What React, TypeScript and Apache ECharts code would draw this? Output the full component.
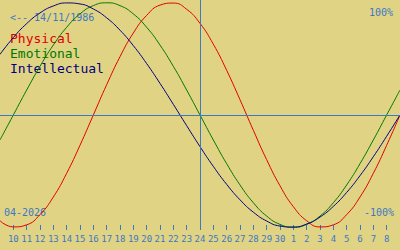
import React, { useEffect, useRef } from "react";
import * as echarts from "echarts";

// Days shown: 9 April 2026 .. 9 May 2026 (vertical marker on 24 April)
const dates = [
  "2026-04-09", "2026-04-10", "2026-04-11", "2026-04-12", "2026-04-13", "2026-04-14",
  "2026-04-15", "2026-04-16", "2026-04-17", "2026-04-18", "2026-04-19", "2026-04-20",
  "2026-04-21", "2026-04-22", "2026-04-23", "2026-04-24", "2026-04-25", "2026-04-26",
  "2026-04-27", "2026-04-28", "2026-04-29", "2026-04-30", "2026-05-01", "2026-05-02",
  "2026-05-03", "2026-05-04", "2026-05-05", "2026-05-06", "2026-05-07", "2026-05-08",
  "2026-05-09",
];
const dayLabels = [
  "9", "10", "11", "12", "13", "14", "15", "16", "17", "18", "19", "20", "21", "22",
  "23", "24", "25", "26", "27", "28", "29", "30", "1", "2", "3", "4", "5", "6", "7", "8", "9",
];
const today = "2026-04-24";

const physical = [
  -0.9423, -0.9977, -0.9791, -0.8879, -0.7308, -0.5196, -0.2698, 0, 0.2698, 0.5196,
  0.7308, 0.8879, 0.9791, 0.9977, 0.9423, 0.817, 0.6311, 0.3984, 0.1362, -0.1362,
  -0.3984, -0.6311, -0.817, -0.9423, -0.9977, -0.9791, -0.8879, -0.7308, -0.5196,
  -0.2698, 0,
];
const emotional = [
  -0.2225, 0, 0.2225, 0.4339, 0.6235, 0.7818, 0.901, 0.9749, 1, 0.9749, 0.901, 0.7818,
  0.6235, 0.4339, 0.2225, 0, -0.2225, -0.4339, -0.6235, -0.7818, -0.901, -0.9749, -1,
  -0.9749, -0.901, -0.7818, -0.6235, -0.4339, -0.2225, 0, 0.2225,
];
const intellectual = [
  0.5406, 0.6901, 0.8146, 0.9096, 0.9718, 0.9989, 0.9898, 0.945, 0.866, 0.7557, 0.6182,
  0.4582, 0.2817, 0.0951, -0.0951, -0.2817, -0.4582, -0.6182, -0.7557, -0.866, -0.945,
  -0.9898, -0.9989, -0.9718, -0.9096, -0.8146, -0.6901, -0.5406, -0.3717, -0.1893, 0,
];

const seriesNames = ["Physical", "Emotional", "Intellectual"];
const seriesColors = ["#e00000", "#007800", "#000080"];
const birthLabel = "<-- 14/11/1986";
const monthLabel = "04-2026";
const topLabel = "100%";
const bottomLabel = "-100%";

const BG = "#e1d384";
const BLUE = "#3c78c4";
const FONT = "DejaVu Sans Mono";

export default function App() {
  const ref = useRef<HTMLDivElement>(null);
  useEffect(() => {
    if (!ref.current) return;
    const chart = echarts.init(ref.current, null, { renderer: "svg" });
    const values = [physical, emotional, intellectual];
    const last = dates.length - 1;
    chart.setOption({
      animation: false,
      backgroundColor: BG,
      grid: { left: 0, right: 0, top: 0, bottom: 20 },
      xAxis: {
        type: "category",
        data: dates,
        boundaryGap: false,
        axisLine: { show: false, onZero: false },
        axisTick: {
          show: true,
          inside: true,
          length: 5,
          interval: (i: number) => i > 0 && i < last,
          lineStyle: { color: BLUE, width: 1 },
        },
        axisLabel: {
          interval: (i: number) => i > 0 && i < last,
          formatter: (_v: string, i: number) => dayLabels[i],
          color: BLUE,
          fontFamily: FONT,
          fontSize: 9,
          margin: 4,
        },
        splitLine: { show: false },
      },
      yAxis: {
        type: "value",
        min: -1.025,
        max: 1.025,
        show: false,
      },
      series: values.map((d, idx) => ({
        type: "line",
        name: seriesNames[idx],
        data: d,
        smooth: true,
        symbol: "none",
        lineStyle: { color: seriesColors[idx], width: 1 },
        silent: true,
        markLine:
          idx === 0
            ? {
                silent: true,
                symbol: "none",
                label: { show: false },
                lineStyle: { color: BLUE, width: 1, type: "solid" },
                data: [{ xAxis: today }, { yAxis: 0 }],
              }
            : undefined,
      })),
      graphic: [
        {
          type: "text",
          left: 10,
          top: 12.2,
          style: { text: birthLabel, fill: BLUE, font: `10px '${FONT}'` },
        },
        ...seriesNames.map((n, i) => ({
          type: "text",
          left: 10,
          top: 32.3 + i * 14.7,
          style: { text: n, fill: seriesColors[i], font: `13px '${FONT}'` },
        })),
        {
          type: "text",
          right: 7,
          top: 7.2,
          style: { text: topLabel, fill: BLUE, font: `10px '${FONT}'` },
        },
        {
          type: "text",
          right: 6,
          top: 207.5,
          style: { text: bottomLabel, fill: BLUE, font: `10px '${FONT}'` },
        },
        {
          type: "text",
          left: 4,
          top: 207.5,
          style: { text: monthLabel, fill: BLUE, font: `10px '${FONT}'` },
        },
      ],
    });
    return () => chart.dispose();
  }, []);
  return (
    <div
      ref={ref}
      style={{ position: "fixed", left: 0, top: 0, width: 400, height: 250 }}
    />
  );
}
